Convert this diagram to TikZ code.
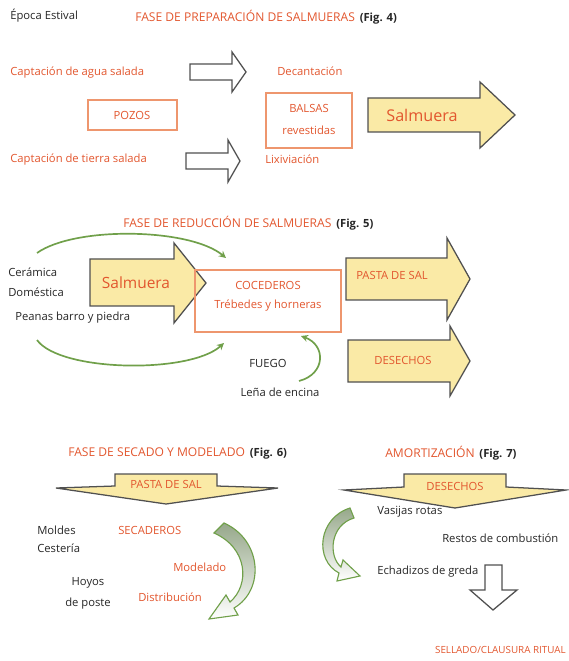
\documentclass[tikz,border=0pt]{standalone}
\usepackage{fontspec}
\setmainfont{Open Sans}
\usetikzlibrary{arrows.meta}
\definecolor{salorange}{RGB}{226,86,46}
\definecolor{boxorange}{RGB}{238,150,110}
\definecolor{salyellow}{RGB}{250,234,166}
\definecolor{arrowgray}{RGB}{80,80,80}
\definecolor{leafgreen}{RGB}{112,160,74}
\definecolor{leafgray}{RGB}{150,168,138}

\begin{document}
\begin{tikzpicture}[x=0.025cm, y=-0.025cm,
		every node/.style={font=\fontsize{8}{10}\selectfont, inner sep=0pt},
		orangetxt/.style={text=salorange},
		blacktxt/.style={text=black!85},
		titletxt/.style={text=salorange, font=\fontsize{8.6}{10}\selectfont},
		figtxt/.style={text=black!85, font=\fontsize{8}{10}\selectfont\bfseries},
		bigtxt/.style={text=salorange, font=\fontsize{11}{14}\selectfont},
		pond/.style={draw=boxorange, line width=0.8pt},
		yellowarrow/.style={fill=salyellow, draw=arrowgray, line width=0.9pt},
		hollowarrow/.style={fill=white, draw=arrowgray, line width=0.9pt},
		greenbend/.style={draw=leafgreen, line width=1.2pt},
		greenband/.style={draw=leafgreen, line width=0.8pt, top color=leafgray, bottom color=white}]
		\useasboundingbox (0,0) rectangle (568,661);

		% fase de preparacion
		\node[blacktxt, anchor=west] (epoca) at (10,16) {Época Estival};
		\node[titletxt, anchor=west] (fase4) at (135,16) {FASE DE PREPARACIÓN DE SALMUERAS};
		\node[figtxt, anchor=base west] (fig4) at ([xshift=3pt]fase4.base east) {(Fig. 4)};
		\node[orangetxt, anchor=west] (agua) at (10,73) {Captación de agua salada};
		\node[orangetxt, anchor=west] (tierra) at (10,160) {Captación de tierra salada};
		\draw[pond] (88,100) rectangle (177,130);
		\node[orangetxt] (pozos) at (132,115) {POZOS};
		\draw[hollowarrow] (190,64) -- (232,64) -- (232,52) -- (246,72) -- (232,92) -- (232,80) -- (190,80) -- cycle;
		\draw[hollowarrow] (186,153) -- (228,153) -- (228,140) -- (240,161) -- (228,182) -- (228,169) -- (186,169) -- cycle;
		\node[orangetxt, anchor=west] (decant) at (277,71) {Decantación};
		\node[orangetxt, anchor=west] (lixiv) at (265,159) {Lixiviación};
		\draw[pond] (266,93) rectangle (352,148);
		\node[orangetxt] (balsas) at (309,108) {BALSAS};
		\node[orangetxt] (revest) at (309,130) {revestidas};
		\draw[yellowarrow] (368,98) -- (480,98) -- (480,82) -- (515,115) -- (480,148) -- (480,132) -- (368,132) -- cycle;
		\node[bigtxt, font=\fontsize{11.5}{14}\selectfont] (salm1) at (422,115) {Salmuera};

		% fase de reduccion
		\node[titletxt, anchor=west] (fase5) at (123,222) {FASE DE REDUCCIÓN DE SALMUERAS};
		\node[figtxt, anchor=base west] (fig5) at ([xshift=3pt]fase5.base east) {(Fig. 5)};
		\node[blacktxt, anchor=west] (ceram) at (8,272) {Cerámica};
		\node[blacktxt, anchor=west] (domest) at (8,292) {Doméstica};
		\node[blacktxt, anchor=west] (peanas) at (15,318) {Peanas barro y piedra};
		\draw[yellowarrow] (90,259) -- (174,259) -- (174,243) -- (206,283) -- (174,323) -- (174,306) -- (90,306) -- cycle;
		\node[bigtxt] (salm2) at (136,283) {Salmuera};
		\draw[pond] (195,270) rectangle (341,332);
		\node[orangetxt] (coced) at (268,285) {COCEDEROS};
		\node[orangetxt] (trebed) at (268,306) {Trébedes y horneras};
		\draw[yellowarrow] (346,258) -- (447,258) -- (447,238) -- (470,279) -- (447,320) -- (447,300) -- (346,300) -- cycle;
		\node[orangetxt] (pasta1) at (392,275) {PASTA DE SAL};
		\draw[yellowarrow] (348,340) -- (450,340) -- (450,326) -- (470,361) -- (450,396) -- (450,382) -- (348,382) -- cycle;
		\node[orangetxt] (desech1) at (403,360) {DESECHOS};
		\node[blacktxt] (fuego) at (268,363) {FUEGO};
		\node[blacktxt] (lena) at (280,392) {Leña de encina};
		\coordinate (arcA) at (37,253);
		\coordinate (arcB) at (226,258);
		\coordinate (arcC) at (37,340);
		\coordinate (arcD) at (224,343);
		\coordinate (arcE) at (301,336);
		\coordinate (arcF) at (299,381);
		\draw[greenbend, -{Stealth[open, length=5pt, width=5pt]}] (arcA) .. controls (75,226) and (190,228) .. (arcB);
		\draw[greenbend, -{Stealth[open, length=5pt, width=5pt]}] (arcC) .. controls (60,372) and (190,374) .. (arcD);
		\draw[greenbend, {Stealth[open, length=5pt, width=5pt]}-] (arcE) .. controls (326,345) and (326,374) .. (arcF);

		% fase de secado y modelado
		\node[titletxt, anchor=west] (fase6) at (68,452) {FASE DE SECADO Y MODELADO};
		\node[figtxt, anchor=base west] (fig6) at ([xshift=3pt]fase6.base east) {(Fig. 6)};
		\draw[yellowarrow] (115,474) -- (217,474) -- (217,486) -- (278,488) -- (166,504) -- (56,488) -- (115,486) -- cycle;
		\node[orangetxt] (pasta2) at (166,484) {PASTA DE SAL};
		\node[blacktxt, anchor=west] (moldes) at (37,530) {Moldes};
		\node[blacktxt, anchor=west] (cester) at (37,548) {Cestería};
		\node[orangetxt, anchor=west] (secad) at (118,530) {SECADEROS};
		\node[orangetxt, anchor=west] (model) at (173,567) {Modelado};
		\node[blacktxt] (hoyos) at (88,583) {Hoyos};
		\node[blacktxt] (poste) at (88,604) {de poste};
		\node[orangetxt, anchor=west] (distrib) at (138,597) {Distribución};
		\draw[greenband] (224,523) .. controls (262,540) and (265,590) .. (234,608) -- (238,615) -- (209,619)
			-- (226,595) -- (230,602) .. controls (250,585) and (248,548) .. (214,533) -- cycle;

		% amortizacion
		\node[titletxt, anchor=west] (amort) at (385,452) {AMORTIZACIÓN};
		\node[figtxt, anchor=base west] (fig7) at ([xshift=3pt]amort.base east) {(Fig. 7)};
		\draw[yellowarrow] (404,474) -- (506,474) -- (506,487) -- (566,490) -- (455,508) -- (344,490) -- (404,487) -- cycle;
		\node[orangetxt] (desech2) at (455,486) {DESECHOS};
		\node[blacktxt, anchor=west] (vasij) at (377,512) {Vasijas rotas};
		\node[blacktxt, anchor=west] (restos) at (442,538) {Restos de combustión};
		\node[blacktxt, anchor=west] (echad) at (377,572) {Echadizos de greda};
		\draw[greenband] (350,508) .. controls (318,518) and (314,560) .. (339,573) -- (337,581) -- (360,576)
			-- (343,560) -- (341,567) .. controls (328,556) and (330,525) .. (354,518) -- cycle;
		\draw[hollowarrow] (485,565) -- (502,565) -- (502,590) -- (517,590) -- (493,610) -- (470,590) -- (485,590) -- cycle;
		\node[orangetxt, anchor=east, font=\fontsize{7}{8}\selectfont] (sellado) at (566,650) {SELLADO/CLAUSURA RITUAL};
	\end{tikzpicture}
\end{document}
